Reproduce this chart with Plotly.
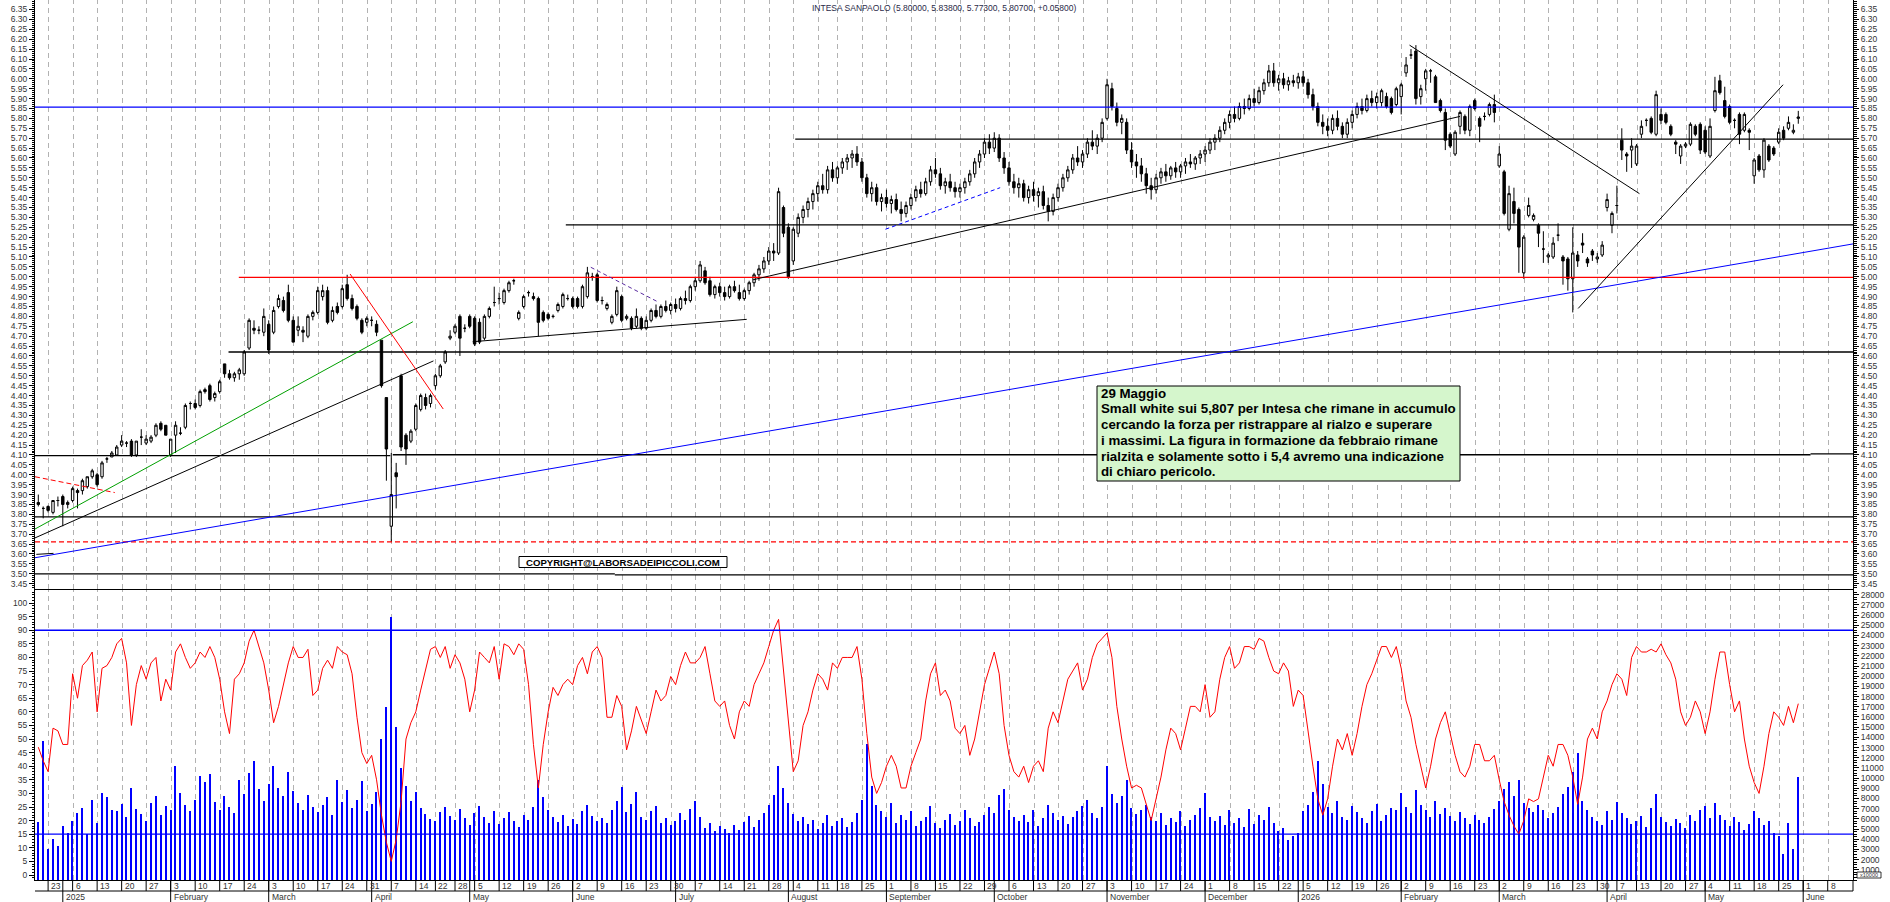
import plotly.graph_objects as go
import pandas as pd

# ---------------- DATA ----------------
opens = [
3.86,3.83,3.84,3.81,3.87,3.89,3.85,3.87,3.92,3.92,
3.94,3.99,4.00,3.99,4.08,4.09,4.10,4.15,4.16,4.17,
4.10,4.19,4.16,4.17,4.20,4.26,4.25,4.10,4.20,4.21,
4.24,4.36,4.36,4.35,4.43,4.45,4.39,4.42,4.56,4.51,
4.49,4.51,4.51,4.64,4.74,4.73,4.72,4.76,4.72,4.85,
4.88,4.92,4.78,4.73,4.73,4.70,4.80,4.82,4.90,4.93,
4.78,4.85,4.85,4.96,4.89,4.85,4.78,4.77,4.78,4.76,
4.68,4.39,3.74,4.01,4.50,4.20,4.17,4.23,4.33,4.39,
4.36,4.45,4.50,4.57,4.69,4.72,4.80,4.74,4.80,4.79,
4.77,4.69,4.80,4.87,4.89,4.87,4.93,4.98,4.79,4.85,
4.92,4.90,4.89,4.82,4.81,4.80,4.83,4.85,4.89,4.89,
4.89,4.85,4.90,5.00,5.01,4.88,4.84,4.77,4.81,4.90,
4.79,4.79,4.75,4.79,4.74,4.78,4.83,4.80,4.85,4.83,
4.86,4.84,4.89,4.88,4.95,4.98,5.03,4.98,4.91,4.95,
4.92,4.90,4.95,4.92,4.89,4.93,4.97,5.01,5.04,5.08,
5.13,5.12,5.35,5.25,5.08,5.22,5.30,5.34,5.38,5.42,
5.46,5.44,5.54,5.50,5.55,5.58,5.60,5.62,5.58,5.50,
5.42,5.45,5.38,5.40,5.37,5.39,5.34,5.32,5.36,5.40,
5.44,5.42,5.48,5.54,5.52,5.46,5.48,5.45,5.43,5.45,
5.48,5.52,5.58,5.62,5.68,5.65,5.70,5.60,5.55,5.48,
5.45,5.47,5.40,5.44,5.41,5.43,5.36,5.33,5.40,5.45,
5.50,5.54,5.60,5.58,5.62,5.68,5.66,5.70,5.80,5.95,
5.85,5.78,5.78,5.64,5.58,5.56,5.52,5.46,5.44,5.50,
5.53,5.51,5.55,5.53,5.56,5.58,5.57,5.60,5.62,5.64,
5.68,5.70,5.74,5.78,5.82,5.80,5.86,5.85,5.90,5.88,
5.94,5.98,6.04,5.98,6.00,5.97,5.99,5.98,6.01,5.98,
5.92,5.86,5.78,5.76,5.74,5.80,5.76,5.72,5.78,5.82,
5.86,5.84,5.90,5.88,5.88,5.91,5.90,5.87,5.91,6.03,
6.12,6.14,5.91,6.00,6.04,6.01,5.89,5.83,5.72,5.62,
5.76,5.81,5.74,5.89,5.80,5.81,5.82,5.87,5.56,5.53,
5.24,5.38,5.34,5.02,5.31,5.29,5.26,5.14,5.10,5.10,
5.21,5.10,5.09,4.99,5.11,5.17,5.09,5.13,5.09,5.11,
5.35,5.26,5.36,5.69,5.62,5.64,5.57,5.72,5.79,5.80,
5.72,5.82,5.82,5.76,5.68,5.61,5.66,5.67,5.76,5.77,
5.74,5.61,5.84,5.99,5.89,5.86,5.79,5.82,5.74,5.74,
5.51,5.61,5.54,5.66,5.65,5.68,5.74,5.75,5.73,5.80]

highs = [
3.90,3.84,3.845,3.87,3.89,3.90,3.87,3.94,3.93,3.98,
3.99,4.03,4.01,4.07,4.09,4.12,4.15,4.20,4.17,4.18,
4.17,4.23,4.20,4.20,4.26,4.27,4.25,4.18,4.27,4.24,
4.36,4.37,4.38,4.43,4.44,4.46,4.42,4.48,4.56,4.53,
4.52,4.54,4.63,4.79,4.78,4.75,4.84,4.78,4.85,4.91,
4.90,4.96,4.80,4.80,4.75,4.81,4.83,4.95,4.96,4.95,
4.85,4.87,4.96,5.01,4.91,4.86,4.79,4.80,4.80,4.78,
4.68,4.39,4.11,4.06,4.51,4.21,4.23,4.36,4.41,4.41,
4.41,4.51,4.56,4.63,4.73,4.76,4.81,4.76,4.81,4.80,
4.79,4.81,4.85,4.95,4.92,4.94,4.98,4.99,4.83,4.91,
4.93,4.92,4.90,4.83,4.82,4.81,4.87,4.92,4.91,4.90,
4.90,4.96,5.05,5.02,5.02,4.90,4.87,4.81,4.95,4.91,
4.81,4.80,4.84,4.80,4.80,4.84,4.86,4.86,4.88,4.87,
4.89,4.90,4.93,4.96,5.00,5.08,5.05,5.00,4.96,4.97,
4.95,4.96,4.98,4.96,4.94,4.98,5.02,5.06,5.10,5.15,
5.17,5.45,5.36,5.27,5.25,5.32,5.36,5.40,5.44,5.48,
5.52,5.56,5.58,5.56,5.60,5.62,5.64,5.66,5.60,5.52,
5.48,5.47,5.42,5.44,5.41,5.42,5.38,5.38,5.42,5.46,
5.48,5.50,5.56,5.60,5.55,5.50,5.52,5.48,5.47,5.50,
5.54,5.60,5.64,5.70,5.72,5.73,5.72,5.63,5.58,5.52,
5.50,5.49,5.46,5.48,5.45,5.46,5.40,5.42,5.47,5.52,
5.56,5.62,5.66,5.64,5.70,5.74,5.72,5.80,6.00,5.98,
5.88,5.82,5.80,5.68,5.62,5.60,5.55,5.50,5.52,5.55,
5.57,5.56,5.58,5.57,5.60,5.62,5.61,5.64,5.66,5.70,
5.72,5.76,5.80,5.84,5.86,5.88,5.90,5.92,5.95,5.96,
6.00,6.07,6.08,6.02,6.03,6.01,6.02,6.03,6.04,6.00,
5.95,5.88,5.82,5.80,5.82,5.84,5.78,5.80,5.84,5.88,
5.90,5.92,5.94,5.93,5.95,5.93,5.91,5.96,5.98,6.11,
6.15,6.17,5.97,6.05,6.05,6.02,5.90,5.85,5.73,5.74,
5.84,5.82,5.87,5.90,5.81,5.83,5.88,5.92,5.66,5.54,
5.46,5.45,5.35,5.21,5.40,5.32,5.27,5.23,5.12,5.20,
5.27,5.11,5.10,5.25,5.13,5.22,5.10,5.14,5.12,5.18,
5.42,5.33,5.46,5.75,5.63,5.70,5.67,5.79,5.80,5.81,
5.94,5.85,5.83,5.77,5.69,5.67,5.68,5.78,5.77,5.78,
5.76,5.80,6.01,6.02,5.96,5.87,5.80,5.83,5.83,5.75,
5.60,5.62,5.70,5.67,5.66,5.75,5.76,5.81,5.77,5.838]

lows = [
3.84,3.78,3.81,3.80,3.84,3.74,3.83,3.86,3.83,3.90,
3.93,3.98,3.94,3.98,4.06,4.09,4.10,4.14,4.14,4.09,
4.09,4.15,4.15,4.16,4.19,4.22,4.20,4.09,4.11,4.20,
4.23,4.33,4.33,4.34,4.41,4.37,4.37,4.41,4.49,4.48,
4.47,4.48,4.50,4.63,4.71,4.71,4.70,4.61,4.71,4.84,
4.82,4.77,4.67,4.70,4.67,4.69,4.78,4.81,4.88,4.76,
4.77,4.81,4.84,4.88,4.83,4.78,4.71,4.75,4.75,4.70,
4.44,3.97,3.66,3.83,4.12,4.05,4.16,4.22,4.32,4.33,
4.34,4.43,4.49,4.56,4.68,4.71,4.60,4.72,4.74,4.65,
4.66,4.68,4.79,4.85,4.86,4.86,4.92,4.96,4.78,4.84,
4.90,4.88,4.70,4.77,4.78,4.79,4.82,4.84,4.88,4.84,
4.84,4.84,4.89,4.98,4.87,4.86,4.83,4.76,4.80,4.77,
4.78,4.73,4.74,4.73,4.73,4.77,4.79,4.79,4.82,4.81,
4.82,4.83,4.86,4.87,4.93,4.97,4.96,4.90,4.89,4.90,
4.88,4.89,4.92,4.88,4.88,4.91,4.95,4.98,5.02,5.06,
5.08,5.11,5.20,4.99,5.06,5.20,5.27,5.30,5.34,5.38,
5.42,5.42,5.48,5.47,5.52,5.54,5.55,5.56,5.48,5.40,
5.38,5.36,5.33,5.35,5.32,5.33,5.28,5.30,5.34,5.38,
5.40,5.41,5.46,5.50,5.44,5.42,5.43,5.40,5.40,5.42,
5.46,5.50,5.55,5.60,5.62,5.63,5.58,5.52,5.46,5.42,
5.40,5.38,5.37,5.38,5.35,5.34,5.28,5.31,5.38,5.43,
5.48,5.52,5.56,5.55,5.60,5.64,5.62,5.68,5.79,5.84,
5.76,5.72,5.62,5.55,5.50,5.48,5.42,5.39,5.42,5.47,
5.48,5.49,5.50,5.50,5.52,5.55,5.54,5.57,5.58,5.62,
5.64,5.68,5.72,5.75,5.78,5.79,5.82,5.84,5.86,5.87,
5.92,5.96,5.96,5.94,5.95,5.94,5.96,5.95,5.96,5.90,
5.84,5.76,5.72,5.71,5.72,5.74,5.70,5.70,5.75,5.80,
5.82,5.83,5.86,5.85,5.86,5.85,5.82,5.86,5.82,6.01,
6.10,5.87,5.87,5.94,5.98,5.88,5.83,5.64,5.65,5.61,
5.72,5.72,5.71,5.84,5.68,5.79,5.81,5.78,5.55,5.31,
5.23,5.27,5.02,4.99,5.30,5.28,5.15,5.07,5.07,5.09,
5.18,4.96,4.93,4.82,5.05,5.12,5.05,5.08,5.07,5.10,
5.33,5.22,5.32,5.59,5.53,5.55,5.56,5.70,5.76,5.72,
5.71,5.77,5.77,5.71,5.62,5.57,5.65,5.66,5.71,5.62,
5.62,5.60,5.83,5.92,5.80,5.77,5.75,5.67,5.73,5.64,
5.47,5.53,5.50,5.58,5.61,5.67,5.69,5.74,5.72,5.773]

closes = [
3.85,3.83,3.82,3.87,3.87,3.85,3.86,3.93,3.91,3.97,
3.99,4.02,3.95,4.06,4.08,4.11,4.14,4.17,4.16,4.10,
4.17,4.19,4.18,4.19,4.25,4.23,4.20,4.18,4.25,4.21,
4.35,4.36,4.34,4.42,4.42,4.38,4.41,4.47,4.51,4.49,
4.51,4.53,4.62,4.78,4.73,4.73,4.80,4.63,4.83,4.89,
4.83,4.78,4.67,4.75,4.72,4.80,4.82,4.93,4.93,4.77,
4.83,4.82,4.94,4.89,4.84,4.79,4.72,4.79,4.78,4.72,
4.45,4.13,3.90,3.99,4.14,4.13,4.22,4.35,4.40,4.35,
4.40,4.50,4.55,4.62,4.70,4.75,4.69,4.74,4.75,4.66,
4.67,4.80,4.84,4.87,4.89,4.93,4.97,4.98,4.82,4.90,
4.92,4.89,4.77,4.78,4.79,4.80,4.86,4.91,4.89,4.85,
4.85,4.95,5.02,5.00,4.88,4.88,4.86,4.80,4.93,4.78,
4.80,4.74,4.80,4.74,4.78,4.83,4.80,4.85,4.83,4.86,
4.84,4.89,4.88,4.95,4.98,5.06,4.97,4.91,4.95,4.92,
4.90,4.95,4.93,4.89,4.93,4.97,5.01,5.04,5.08,5.13,
5.12,5.43,5.22,5.00,5.24,5.30,5.34,5.38,5.42,5.46,
5.44,5.54,5.50,5.55,5.58,5.60,5.62,5.58,5.50,5.42,
5.45,5.38,5.40,5.37,5.39,5.34,5.32,5.36,5.40,5.44,
5.42,5.48,5.54,5.52,5.46,5.48,5.45,5.43,5.45,5.48,
5.52,5.58,5.62,5.68,5.65,5.70,5.60,5.55,5.48,5.45,
5.47,5.40,5.44,5.41,5.43,5.36,5.33,5.40,5.45,5.50,
5.54,5.60,5.58,5.62,5.68,5.66,5.70,5.78,5.97,5.86,
5.78,5.80,5.64,5.58,5.56,5.52,5.46,5.44,5.50,5.53,
5.51,5.55,5.53,5.56,5.58,5.57,5.60,5.62,5.64,5.68,
5.70,5.74,5.78,5.82,5.80,5.86,5.85,5.90,5.88,5.94,
5.98,6.04,5.98,6.00,5.97,5.99,5.98,6.01,5.98,5.92,
5.86,5.78,5.76,5.74,5.80,5.76,5.72,5.78,5.82,5.86,
5.84,5.90,5.88,5.91,5.94,5.86,5.83,5.95,5.97,6.07,
6.12,5.90,5.95,6.04,6.04,5.88,5.84,5.69,5.66,5.73,
5.83,5.74,5.86,5.85,5.76,5.81,5.87,5.83,5.62,5.32,
5.42,5.32,5.15,5.20,5.36,5.31,5.22,5.14,5.11,5.17,
5.21,5.08,4.99,5.12,5.08,5.16,5.07,5.11,5.10,5.16,
5.39,5.32,5.36,5.64,5.61,5.66,5.66,5.76,5.79,5.73,
5.92,5.79,5.78,5.72,5.67,5.66,5.67,5.77,5.72,5.64,
5.63,5.76,5.94,5.93,5.81,5.78,5.79,5.72,5.82,5.73,
5.59,5.54,5.69,5.59,5.62,5.73,5.70,5.78,5.74,5.807]

oscillator = [
47,42,38,54,53,48,48,74,65,77,
79,82,60,76,77,80,85,87,78,55,
70,77,72,78,80,64,72,68,82,85,
80,76,78,82,80,84,80,72,60,52,
72,74,78,86,90,84,78,68,56,62,
70,78,84,80,80,83,66,68,76,79,
76,84,82,81,74,58,45,41,44,35,
22,12,5,13,27,50,56,60,68,76,
83,84,80,84,76,81,78,72,60,68,
82,80,78,84,72,85,84,81,85,83,
70,48,32,48,60,69,66,70,72,70,
77,80,74,82,84,80,58,58,66,62,
46,53,62,57,52,60,68,64,66,73,
70,77,82,78,78,80,84,74,64,62,
64,55,50,60,64,62,70,74,78,84,
90,94,75,55,38,42,55,60,68,74,
72,68,78,76,80,80,80,84,72,52,
36,30,34,40,44,40,32,32,40,45,
50,64,74,78,66,68,64,54,52,55,
44,50,60,70,76,82,74,55,44,38,
36,40,34,40,42,38,54,60,56,64,
72,75,78,68,72,80,85,87,89,80,
62,50,40,32,33,32,26,20,28,36,
46,54,52,46,54,62,62,60,70,58,
60,72,80,84,76,78,84,84,83,87,
86,80,75,74,78,75,62,68,66,52,
40,28,22,28,40,50,46,52,44,52,
62,70,74,79,84,84,80,84,76,64,
58,48,40,32,40,50,56,60,52,44,
38,36,40,48,48,42,42,44,35,27,
22,18,15,20,28,27,28,36,44,40,
48,48,44,36,26,36,50,54,50,60,
64,70,74,72,66,80,84,82,82,83,
82,85,81,78,72,60,55,58,64,60,
52,60,72,82,82,70,60,64,50,40,
34,30,40,52,60,58,55,62,56,63]

volume = [
5700,13600,3000,4000,3300,5300,4600,5800,6600,7100,
4500,7900,5600,8500,8100,6900,6800,7500,6200,9000,
7000,6500,5800,7600,8200,6400,7300,6900,11200,8500,
7400,6800,7900,10200,9600,10400,7700,6900,8200,7200,
6600,9800,8400,10500,11700,8900,7800,9400,11200,9000,
8200,10600,8700,7600,6900,8300,7200,6700,7400,8100,
6400,9800,7700,8800,7100,7900,9700,6800,7500,8600,
13800,17000,25800,15000,11000,9200,7800,8600,7100,6500,
6000,5800,6700,7200,6300,5900,7000,6100,5400,6600,
7300,6200,5600,6800,5500,6100,6700,5800,5200,6400,
5900,7200,9800,8100,6900,6200,5700,6400,5300,6000,
5500,6800,7400,6300,5800,6100,5600,6900,7800,9100,
6700,7500,8600,6200,5900,6800,7300,5600,6100,5400,
5800,6600,5900,7000,7800,6200,5100,5600,4800,5300,
5000,4600,5400,4900,5700,6300,5200,5900,6600,7400,
8300,11200,9000,7600,6500,5800,6200,5500,5900,5000,
5600,6400,5300,5800,6100,5200,5700,6600,7900,13300,
9200,7400,6800,6200,7600,5600,6400,5900,6800,5300,
5800,6200,7300,5600,5100,5900,6500,5400,5800,6900,
6100,5300,5700,6400,7200,6600,8300,8900,6900,6200,
5800,6400,5700,6900,5300,6100,7400,6600,5900,6300,
5500,6200,6800,7300,7900,6600,6100,7200,11200,8400,
7600,8200,9800,7100,6500,6900,7400,6200,5800,6600,
5400,6100,5700,6800,5300,5900,6400,7100,8500,6200,
5800,6300,5400,6900,5600,6100,5200,7000,5500,6400,
5900,7200,5600,4800,5100,3900,4300,4600,6800,7400,
8600,11700,9400,7200,6600,7800,6200,5900,7300,6700,
6100,5600,6800,7500,5800,6400,7100,6900,8500,7200,
6600,8800,7400,6900,6200,7800,6500,7100,6300,5800,
6700,6100,5500,6400,5900,5600,6200,7000,7800,8900,
9600,8200,9800,7600,7100,6700,7400,6900,6100,6600,
7200,8400,9100,10600,12500,7800,6900,6200,5800,5400,
6800,5900,7700,6600,6100,5500,5800,6300,5200,7100,
8400,6200,5700,5300,6000,5600,5100,6400,5800,6900,
7300,6100,7600,6400,5900,5300,6200,5700,4900,5500,
6800,6100,5400,5800,4600,4300,2600,5600,3000,10100]

# analyst drawings, in trading-day index / price
X_LEFT, X_RIGHT = -0.673, 370.16
h_lines = [  # (price, x_start, x_end, colour, dash)
    (5.857, X_LEFT, X_RIGHT, "#0000ff", "solid"),
    (5.695, 154.4, X_RIGHT, "black", "solid"),
    (5.262, 107.6, X_RIGHT, "black", "solid"),
    (4.997, 40.9, X_RIGHT, "#ff0000", "solid"),
    (4.620, 38.8, X_RIGHT, "black", "solid"),
    (4.097, X_LEFT, 71.8, "black", "solid"),
    (4.101, 72.3, 361.5, "black", "solid"),
    (4.106, 361.5, X_RIGHT, "black", "solid"),
    (3.787, X_LEFT, X_RIGHT, "black", "solid"),
    (3.661, X_LEFT, X_RIGHT, "#ff0000", "5px,3px"),
    (3.499, X_LEFT, 117.6, "black", "solid"),
    (3.494, 117.6, X_RIGHT, "black", "solid"),
]
trend_lines = [  # (x0, y0, x1, y1, colour, dash)
    (X_LEFT, 3.581, X_RIGHT, 5.166, "#0000ff", "solid"),
    (X_LEFT, 3.990, 15.6, 3.910, "#ff0000", "5px,3px"),
    (-0.4, 3.598, 3.1, 3.603, "black", "solid"),
    (X_LEFT, 3.726, 76.4, 4.773, "#00a000", "solid"),
    (X_LEFT, 3.681, 80.6, 4.575, "black", "solid"),
    (63.6, 5.014, 82.6, 4.332, "#ff0000", "solid"),
    (88.6, 4.672, 144.5, 4.785, "black", "solid"),
    (112.7, 5.048, 126.1, 4.877, "#5a2ca0", "4px,3px"),
    (172.8, 5.240, 196.2, 5.450, "#0000ff", "4px,3px"),
    (145.8, 4.985, 290.0, 5.810, "black", "solid"),
    (279.7, 6.170, 326.6, 5.420, "black", "solid"),
    (314.1, 4.840, 355.9, 5.970, "black", "solid"),
]
osc_levels = [90, 15]

holidays = ["2024-12-24", "2024-12-25", "2024-12-26", "2024-12-31", "2025-01-01",
            "2025-04-18", "2025-04-21", "2025-05-01", "2025-08-15", "2025-12-24",
            "2025-12-25", "2025-12-26", "2025-12-31", "2026-01-01", "2026-04-03",
            "2026-04-06", "2026-05-01"]
month_names = {1: None, 2: "February", 3: "March", 4: "April", 5: "May", 6: "June",
               7: "July", 8: "August", 9: "September", 10: "October",
               11: "November", 12: "December"}

# ---------------- CALENDAR ----------------
hol = set(pd.to_datetime(holidays))
calendar = [d for d in pd.bdate_range("2024-12-19", "2026-06-12") if d not in hol]
xi = list(range(len(closes)))
skip_weeks = {(2025, 1), (2026, 1)}
week_ticks, month_starts = [], []
prev = None
for k, d in enumerate(calendar):
    iso = (d.isocalendar()[0], d.isocalendar()[1])
    if k > 0 and iso != prev and iso not in skip_weeks:
        week_ticks.append(k)
    prev = iso
    if k > 0 and d.month != calendar[k - 1].month:
        month_starts.append(k)

# ---------------- FIGURE ----------------
W, H = 1890, 902
ML, MR, MT, MB = 35, 37, 0, 22
PW, PH = W - ML - MR, H - MT - MB
FONT = "Liberation Sans, Arial, sans-serif"
TXT = "#333333"


def xp(k):
    return (k - X_LEFT) / (X_RIGHT - X_LEFT)


def yp(py):
    return (PH - (py - MT)) / PH


def px_x(px):
    return (px - ML) / PW


fig = go.Figure()

for (p, a, b, c, dsh) in h_lines:
    fig.add_trace(go.Scatter(x=[a, b], y=[p, p], mode="lines", xaxis="x", yaxis="y",
                             line=dict(color=c, width=1.3, dash=dsh), hoverinfo="skip"))
for (a, ya, b, yb, c, dsh) in trend_lines:
    fig.add_trace(go.Scatter(x=[a, b], y=[ya, yb], mode="lines", xaxis="x", yaxis="y",
                             line=dict(color=c, width=1, dash=dsh), hoverinfo="skip"))

fig.add_trace(go.Candlestick(
    x=xi, open=opens, high=highs, low=lows, close=closes, xaxis="x", yaxis="y",
    increasing=dict(line=dict(color="black", width=1), fillcolor="white"),
    decreasing=dict(line=dict(color="black", width=1), fillcolor="black"),
    whiskerwidth=0, hoverinfo="none"))
fig.add_trace(go.Scatter(x=xi, y=closes, xaxis="x", yaxis="y2", mode="lines",
                         line=dict(width=0), opacity=0, hoverinfo="skip"))

fig.add_trace(go.Bar(x=xi, y=volume, xaxis="x2", yaxis="y3", width=0.26,
                     marker=dict(color="#0000ff", line=dict(width=0)), hoverinfo="skip"))
fig.add_trace(go.Scatter(x=xi, y=oscillator, xaxis="x2", yaxis="y4", mode="lines",
                         line=dict(color="#ff0000", width=1), hoverinfo="skip"))
for lv in osc_levels:
    fig.add_trace(go.Scatter(x=[X_LEFT, X_RIGHT], y=[lv, lv], xaxis="x2", yaxis="y4",
                             mode="lines", line=dict(color="#0000ff", width=1.3),
                             hoverinfo="skip"))

top_dom = [yp(589), 1]
bot_dom = [0, yp(590)]

xcommon = dict(range=[X_LEFT, X_RIGHT], showticklabels=False, ticks="", showgrid=False,
               showline=True, linecolor="black", linewidth=1, mirror=True, zeroline=False)
ycommon = dict(ticks="outside", ticklen=5, tickcolor="black", tickwidth=1,
               showgrid=False, zeroline=False, showline=True, linecolor="black",
               linewidth=1, tickfont=dict(family=FONT, size=8.5, color=TXT))

fig.update_layout(
    width=W, height=H, margin=dict(l=ML, r=MR, t=MT, b=MB),
    paper_bgcolor="white", plot_bgcolor="white", showlegend=False,
    font=dict(family=FONT, size=8.5, color=TXT), bargap=0,
    xaxis=dict(domain=[0, 1], anchor="y", rangeslider=dict(visible=False), **xcommon),
    xaxis2=dict(domain=[0, 1], anchor="y3", **xcommon),
    yaxis=dict(domain=top_dom, range=[3.423, 6.398], side="left", anchor="x",
               tickformat=".2f", dtick=0.05, tick0=0,
               minor=dict(dtick=0.01, tick0=0, ticklen=2.5, tickcolor="black", ticks="outside"),
               **ycommon),
    yaxis2=dict(overlaying="y", range=[3.423, 6.398], side="right", anchor="x",
                tickformat=".2f", dtick=0.05, tick0=0,
                minor=dict(dtick=0.01, tick0=0, ticklen=2.5, tickcolor="black", ticks="outside"),
                **ycommon),
    yaxis3=dict(domain=bot_dom, range=[0, 28460], side="right", anchor="x2",
                tickmode="array", tickvals=list(range(1000, 28001, 1000)),
                ticktext=[str(v) for v in range(1000, 28001, 1000)],
                minor=dict(dtick=250, tick0=0, ticklen=2.5, tickcolor="black", ticks="outside"),
                **ycommon),
    yaxis4=dict(overlaying="y3", range=[-1.84, 104.8], side="left", anchor="x2",
                dtick=5, tick0=0,
                minor=dict(dtick=1, tick0=0, ticklen=2.5, tickcolor="black", ticks="outside"),
                **ycommon),
)

annotations = []
shapes = []

# weekly dashed grid (both panels)
for k in week_ticks:
    gx = round(ML + xp(k) * PW) + 0.5
    gxp = (gx - ML) / PW
    for (ya, yb) in [(top_dom[0], 1), (0, bot_dom[1])]:
        shapes.append(dict(type="line", xref="paper", yref="paper", x0=gxp, x1=gxp,
                           y0=ya, y1=yb, layer="below",
                           line=dict(color="#b2b2b2", width=1, dash="5px,4px")))

# title
annotations.append(dict(xref="paper", yref="paper", x=0.5, y=yp(7.5), xanchor="center",
                        yanchor="middle", showarrow=False,
                        text="INTESA SANPAOLO (5.80000, 5.83800, 5.77300, 5.80700, +0.05800)",
                        font=dict(family=FONT, size=8.5, color="#2a2a48")))

# date axis rows
row_y = yp(891)
bot_y = yp(902)
shapes.append(dict(type="line", xref="paper", yref="paper", x0=0, x1=1, y0=row_y, y1=row_y,
                   line=dict(color="black", width=1)))
shapes.append(dict(type="line", xref="paper", yref="paper", x0=1, x1=1, y0=0, y1=row_y,
                   line=dict(color="black", width=1)))
for k in week_ticks:
    shapes.append(dict(type="line", xref="paper", yref="paper", x0=xp(k), x1=xp(k),
                       y0=0, y1=row_y, line=dict(color="black", width=1)))
    annotations.append(dict(xref="paper", yref="paper", x=xp(k), y=yp(886), xanchor="left",
                            yanchor="middle", xshift=1, showarrow=False,
                            text=str(calendar[k].day),
                            font=dict(family=FONT, size=8.5, color=TXT)))
for k in month_starts:
    d = calendar[k]
    label = str(d.year) if d.month == 1 else month_names[d.month]
    shapes.append(dict(type="line", xref="paper", yref="paper", x0=xp(k), x1=xp(k),
                       y0=0, y1=bot_y, line=dict(color="black", width=1)))
    annotations.append(dict(xref="paper", yref="paper", x=xp(k), y=yp(897), xanchor="left",
                            yanchor="middle", xshift=1, showarrow=False, text=label,
                            font=dict(family=FONT, size=8.5, color=TXT)))

# comment box
shapes.append(dict(type="rect", xref="paper", yref="paper", x0=px_x(1097), x1=px_x(1460),
                   y0=yp(481), y1=yp(386), fillcolor="#d5f6cc",
                   line=dict(color="black", width=1), layer="above"))
box_lines = ["29 Maggio",
             "Small white sui 5,807 per Intesa che rimane in accumulo",
             "cercando la forza per ristrappare al rialzo e superare",
             "i massimi. La figura in formazione da febbraio rimane",
             "rialzita e solamente sotto i 5,4 avremo una indicazione",
             "di chiaro pericolo."]
line_y = [393.5, 409, 424.8, 440.5, 456.2, 471.8]
for t, ly in zip(box_lines, line_y):
    annotations.append(dict(xref="paper", yref="paper", x=px_x(1099), y=yp(ly),
                            xanchor="left", yanchor="middle", showarrow=False,
                            text="<b>" + t + "</b>",
                            font=dict(family=FONT, size=13.3, color="black")))

# copyright box
shapes.append(dict(type="rect", xref="paper", yref="paper", x0=px_x(519), x1=px_x(727),
                   y0=yp(567.5), y1=yp(556.5), fillcolor="white",
                   line=dict(color="black", width=1), layer="above"))
annotations.append(dict(xref="paper", yref="paper", x=px_x(623), y=yp(562.2),
                        xanchor="center", yanchor="middle", showarrow=False,
                        text="<b>COPYRIGHT@LABORSADEIPICCOLI.COM</b>",
                        font=dict(family=FONT, size=9.6, color="black")))

# volume multiplier tag
shapes.append(dict(type="rect", xref="paper", yref="paper", x0=px_x(1857), x1=px_x(1881),
                   y0=yp(878), y1=yp(872), fillcolor="white",
                   line=dict(color="black", width=0.8)))
annotations.append(dict(xref="paper", yref="paper", x=px_x(1869), y=yp(875),
                        xanchor="center", yanchor="middle", showarrow=False,
                        text="x10000", font=dict(family=FONT, size=5.5, color=TXT)))

fig.update_layout(annotations=annotations, shapes=shapes)

fig.write_html("out.html", config={"displayModeBar": False})
